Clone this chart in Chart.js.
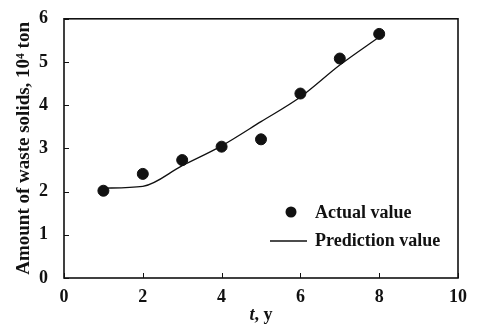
<!DOCTYPE html>
<html>
<head>
<meta charset="utf-8">
<script src="https://cdn.jsdelivr.net/npm/chart.js@4"></script>
<style>
  html, body { margin: 0; padding: 0; background: #fff; }
  #wrap { width: 481px; height: 327px; }
</style>
</head>
<body>
<div id="wrap"><canvas id="c"></canvas></div>
<script>
  // data
  const years      = [1, 2, 3, 4, 5, 6, 7, 8];
  const actual     = [2.02, 2.41, 2.73, 3.04, 3.21, 4.27, 5.08, 5.65];
  const prediction = [2.08, 2.12, 2.60, 3.06, 3.62, 4.19, 4.93, 5.58];
  const xTicks     = [0, 2, 4, 6, 8, 10];
  const yTicks     = [0, 1, 2, 3, 4, 5, 6];

  const FONT = '"Liberation Serif", "Times New Roman", serif';
  const INK  = '#111';

  // frame + inward ticks + inner legend + x title
  const decor = {
    id: 'decor',
    afterDraw(chart) {
      const { ctx, chartArea: a, scales: { x, y } } = chart;
      ctx.save();
      ctx.strokeStyle = INK;
      ctx.lineWidth = 1.6;
      ctx.strokeRect(a.left, a.top, a.right - a.left, a.bottom - a.top);

      ctx.lineWidth = 1;
      ctx.beginPath();
      xTicks.forEach(v => {
        const px = Math.round(x.getPixelForValue(v)) + 0.5;
        ctx.moveTo(px, a.bottom); ctx.lineTo(px, a.bottom - 5);
      });
      yTicks.forEach(v => {
        const py = Math.round(y.getPixelForValue(v)) + 0.5;
        ctx.moveTo(a.left, py); ctx.lineTo(a.left + 5, py);
      });
      ctx.stroke();

      // legend
      ctx.font = 'bold 18px ' + FONT;
      ctx.fillStyle = INK;
      ctx.textBaseline = 'middle';
      ctx.textAlign = 'left';
      ctx.beginPath();
      ctx.arc(291, 212, 5.5, 0, Math.PI * 2);
      ctx.fill();
      ctx.fillText('Actual value', 315, 213);
      ctx.beginPath();
      ctx.lineWidth = 1.3;
      ctx.moveTo(270, 241); ctx.lineTo(307, 241);
      ctx.stroke();
      ctx.fillText('Prediction value', 315, 241);

      // x title "t, y"
      const cx = (a.left + a.right) / 2;
      ctx.textBaseline = 'alphabetic';
      ctx.font = 'italic bold 18px ' + FONT;
      const tw = ctx.measureText('t').width;
      ctx.font = 'bold 18px ' + FONT;
      const rw = ctx.measureText(', y').width;
      const sx = cx - (tw + rw) / 2;
      ctx.font = 'italic bold 18px ' + FONT;
      ctx.fillText('t', sx, 320);
      ctx.font = 'bold 18px ' + FONT;
      ctx.fillText(', y', sx + tw, 320);
      ctx.restore();
    }
  };

  new Chart(document.getElementById('c'), {
    type: 'scatter',
    data: {
      datasets: [
        {
          label: 'Actual value',
          data: years.map((t, i) => ({ x: t, y: actual[i] })),
          backgroundColor: INK,
          borderColor: INK,
          pointRadius: 5.5,
          showLine: false,
        },
        {
          label: 'Prediction value',
          data: years.map((t, i) => ({ x: t, y: prediction[i] })),
          borderColor: INK,
          borderWidth: 1.3,
          pointRadius: 0,
          showLine: true,
          cubicInterpolationMode: 'monotone',
        }
      ]
    },
    options: {
      responsive: true,
      maintainAspectRatio: false,
      animation: false,
      layout: { padding: { top: 7, right: 23, left: 0, bottom: 0 } },
      plugins: { legend: { display: false }, tooltip: { enabled: false } },
      scales: {
        x: {
          type: 'linear', min: 0, max: 10,
          afterFit: s => { s.height = 49; },
          afterBuildTicks: s => { s.ticks = xTicks.map(v => ({ value: v })); },
          grid: { display: false },
          border: { display: false },
          ticks: { color: INK, padding: 1, font: { family: FONT, size: 18, weight: 'bold' }, maxRotation: 0 },
        },
        y: {
          min: 0, max: 6,
          afterFit: s => { s.width = 64; },
          afterBuildTicks: s => { s.ticks = yTicks.map(v => ({ value: v })); },
          grid: { display: false },
          border: { display: false },
          title: {
            display: true,
            text: 'Amount of waste solids, 10⁴ ton',
            color: INK,
            font: { family: FONT, size: 19, weight: 'bold' },
            padding: { top: 13, bottom: 0 },
          },
          ticks: { color: INK, padding: 8, font: { family: FONT, size: 18, weight: 'bold' } },
        }
      }
    },
    plugins: [decor]
  });
</script>
</body>
</html>
